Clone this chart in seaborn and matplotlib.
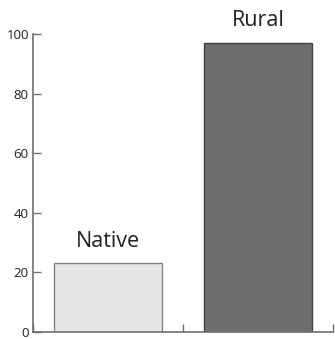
import pandas as pd
import matplotlib.pyplot as plt
import seaborn as sns

# Chart data
categories = ['Native', 'Rural']
values = [23, 97]
bar_colors = ['#e6e7e8', '#6d6e71']
edge_colors = ['#808285', '#414042']

sns.set_style("white")
plt.rcParams['font.family'] = ['Open Sans', 'DejaVu Sans']

df = pd.DataFrame({'group': categories, 'value': values})

fig = plt.figure(figsize=(3.35, 3.39), dpi=100)
ax = fig.add_axes([33 / 335, 7 / 339, 300 / 335, 298 / 339])

sns.barplot(x='group', y='value', hue='group', data=df, palette=bar_colors,
            width=0.72, legend=False, ax=ax)

for patch, ec in zip(ax.patches, edge_colors):
    patch.set_edgecolor(ec)
    patch.set_linewidth(1.0)

# Category labels above bars
for i, (cat, val) in enumerate(zip(categories, values)):
    ax.text(i, val + 4, cat, ha='center', va='bottom', fontsize=15.5, color='#231f20')

ax.set_xlim(-0.5, 1.5)
ax.set_ylim(0, 100)
ax.set_yticks([0, 20, 40, 60, 80, 100])
ax.set_xticks([-0.5, 0.5, 1.5])
ax.set_xticklabels([])
ax.set_xlabel('')
ax.set_ylabel('')

for side in ['top', 'right']:
    ax.spines[side].set_visible(False)
for side in ['left', 'bottom']:
    ax.spines[side].set_color('#6d6e71')
    ax.spines[side].set_linewidth(1.2)

ax.tick_params(axis='y', direction='in', length=6, width=1, color='#6d6e71',
               labelsize=9.5, labelcolor='#231f20', pad=3)
ax.tick_params(axis='x', direction='in', length=6, width=1, color='#6d6e71')
ax.tick_params(axis='both', left=True, bottom=True)

fig.savefig('out.png', dpi=100)
